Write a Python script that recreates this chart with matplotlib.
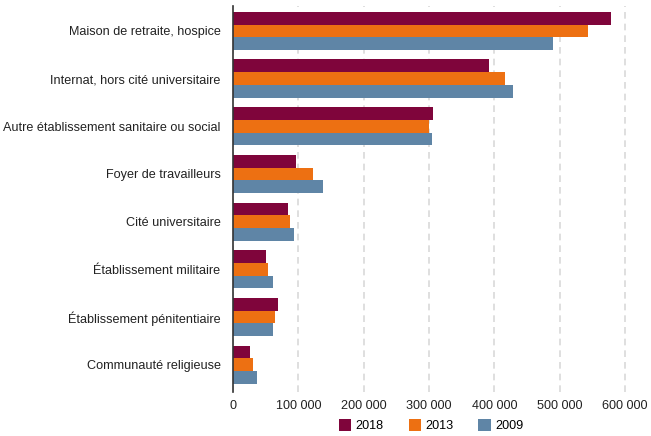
import matplotlib
matplotlib.use("Agg")
import matplotlib.pyplot as plt
import numpy as np
from matplotlib.ticker import FuncFormatter

categories = ["Maison de retraite, hospice", "Internat, hors cité universitaire",
              "Autre établissement sanitaire ou social", "Foyer de travailleurs",
              "Cité universitaire", "Établissement militaire",
              "Établissement pénitentiaire", "Communauté religieuse"]
v2018 = [579000, 392000, 306000, 96000, 84000, 51000, 69000, 26000]
v2013 = [544000, 417000, 300000, 122000, 87000, 54000, 64000, 31000]
v2009 = [490000, 429000, 305000, 138000, 93000, 61000, 61000, 37000]
series = [("2018", v2018, "#7f053b"), ("2013", v2013, "#ed7012"), ("2009", v2009, "#5f85a6")]

plt.rcParams['font.family'] = ['Liberation Sans', 'DejaVu Sans']
fig = plt.figure(figsize=(6.51, 4.36), dpi=100)
ax = fig.add_axes([0.358, 0.101, 0.632, 0.885])

y = np.arange(len(categories))
h = 0.267
for i, (lab, vals, col) in enumerate(series):
    ax.barh(y + (i - 1) * h, vals, height=h, color=col, label=lab, zorder=3)

ax.set_ylim(7.57, -0.52)
ax.set_xlim(0, 630000)
ax.set_xticks(np.arange(0, 600001, 100000))
ax.xaxis.set_major_formatter(FuncFormatter(lambda v, p: f"{int(v):,}".replace(",", " ")))
ax.set_yticks(y)
ax.set_yticklabels(categories)
ax.tick_params(axis='both', length=0, labelsize=9.1, colors='#222222')
ax.tick_params(axis='y', pad=9)
ax.tick_params(axis='x', pad=6)
ax.grid(axis='x', color='#d9d9d9', linestyle=(0, (4, 3)), linewidth=1.2, zorder=0)
for s in ['top', 'right', 'bottom']:
    ax.spines[s].set_visible(False)
ax.spines['left'].set_color('#333333')
ax.spines['left'].set_linewidth(1.2)
ax.spines['left'].set_zorder(4)

fig.legend(loc='lower center', bbox_to_anchor=(0.662, -0.018), ncol=3, frameon=False,
           fontsize=9.1, handlelength=1.0, handleheight=1.0, handletextpad=0.3,
           columnspacing=2.0)
fig.savefig("out.png", dpi=100)
